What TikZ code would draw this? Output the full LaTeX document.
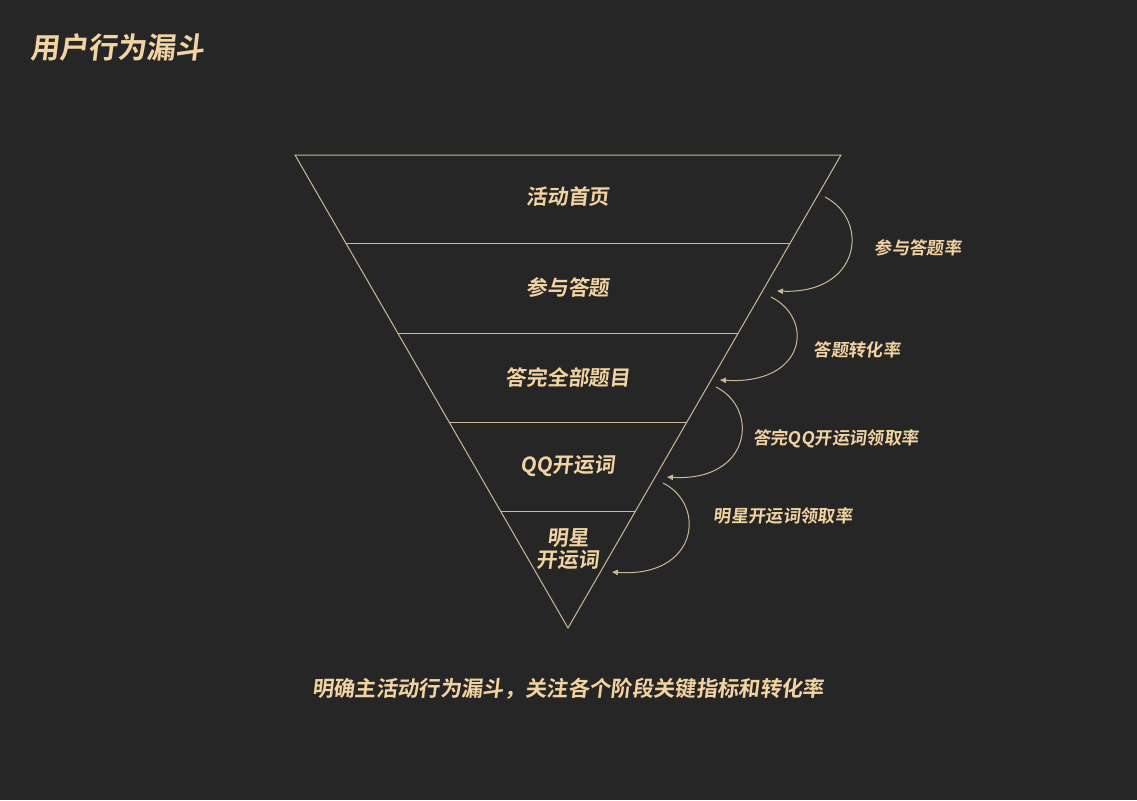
\documentclass[tikz,border=0pt]{standalone}
\usepackage{fontspec}
\usetikzlibrary{arrows.meta,calc}
\newfontfamily\cjk[FakeSlant=0.12]{Noto Sans CJK SC Bold}
\definecolor{bgc}{HTML}{262626}
\definecolor{gold}{HTML}{F2D4A2}
\definecolor{linec}{HTML}{CDB896}
\tikzset{
  funnel/.style={draw=linec, line width=0.75pt},
  stagetxt/.style={text=gold, font=\cjk\fontsize{15.6}{19}\selectfont, align=center, inner sep=0pt},
  ratetxt/.style={text=gold, font=\cjk\fontsize{13}{15}\selectfont, inner sep=0pt},
  ratearc/.style={draw=linec, line width=0.75pt, -{Triangle[length=4.5pt,width=4pt]}},
}
\begin{document}
\begin{tikzpicture}[x=0.75pt,y=-0.75pt]
\fill[bgc] (0,0) rectangle (1137,800);
\useasboundingbox (0,0) rectangle (1137,800);
% funnel
\coordinate (tl) at (295,155);
\coordinate (tr) at (841,155);
\coordinate (ap) at (568,628);
\draw[funnel] (tl) -- (tr) -- (ap) -- cycle;
\coordinate (l1) at (345.8,243); \coordinate (r1) at (790.2,243);
\coordinate (l2) at (397.8,333); \coordinate (r2) at (738.2,333);
\coordinate (l3) at (449.1,422); \coordinate (r3) at (686.9,422);
\coordinate (l4) at (500.5,511); \coordinate (r4) at (635.5,511);
\draw[funnel] (l1) -- (r1);
\draw[funnel] (l2) -- (r2);
\draw[funnel] (l3) -- (r3);
\draw[funnel] (l4) -- (r4);
% stage texts
\node[stagetxt] (s1) at (568,197) {活动首页};
\node[stagetxt] (s2) at (568,287) {参与答题};
\node[stagetxt] (s3) at (568,377) {答完全部题目};
\node[stagetxt] (s4) at (568,466) {QQ开运词};
\node[stagetxt] (s5) at (568,549) {明星\\[-2pt]开运词};
% arcs
\coordinate (a1s) at (825,197); \coordinate (a1e) at (777,291);
\coordinate (a2s) at (771,297); \coordinate (a2e) at (720,380);
\coordinate (a3s) at (716,387); \coordinate (a3e) at (667,477);
\coordinate (a4s) at (663,483); \coordinate (a4e) at (612,572);
\draw[ratearc] (a1s) .. controls ($(a1s)+(45,23)$) and ($(a1s)+(36,97)$) .. (a1e);
\draw[ratearc] (a2s) .. controls ($(a2s)+(44,22)$) and ($(a2s)+(35,88)$) .. (a2e);
\draw[ratearc] (a3s) .. controls ($(a3s)+(44,22)$) and ($(a3s)+(35,95)$) .. (a3e);
\draw[ratearc] (a4s) .. controls ($(a4s)+(44,22)$) and ($(a4s)+(35,95)$) .. (a4e);
% rate labels
\node[ratetxt] (t1) at (918,248) {参与答题率};
\node[ratetxt] (t2) at (857,350) {答题转化率};
\node[ratetxt] (t3) at (836,439) {答完QQ开运词领取率};
\node[ratetxt] (t4) at (783,516) {明星开运词领取率};
% title and caption
\node[text=gold, font=\cjk\fontsize{21.8}{25}\selectfont, anchor=west, inner sep=0pt] (title) at (30,47) {用户行为漏斗};
\node[text=gold, font=\cjk\fontsize{16}{19}\selectfont, inner sep=0pt] (cap) at (568,689) {明确主活动行为漏斗，关注各个阶段关键指标和转化率};
\end{tikzpicture}
\end{document}
